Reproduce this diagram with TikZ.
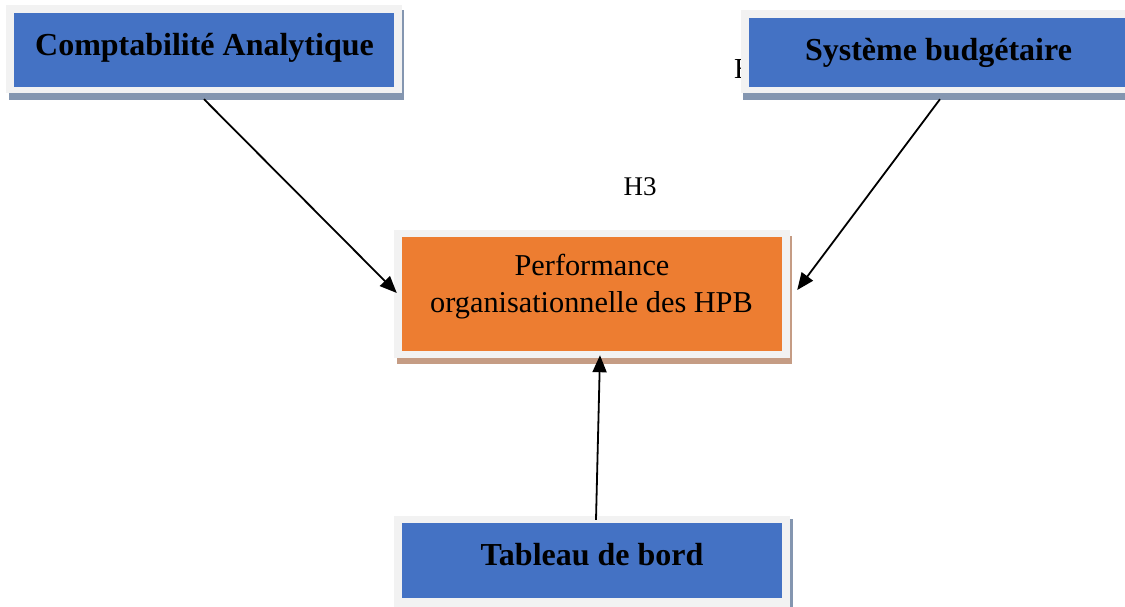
\documentclass[tikz,border=0pt]{standalone}
\usepackage{fontspec}
\setmainfont{Liberation Serif}
\usetikzlibrary{arrows.meta,calc}
\definecolor{boxblue}{HTML}{4472C4}
\definecolor{boxorange}{HTML}{ED7D31}
\definecolor{framegray}{HTML}{F2F2F2}
\definecolor{shblue}{HTML}{8496B0}
\definecolor{shbrown}{HTML}{C59C84}
\tikzset{
  framebox/.style={fill=framegray, draw=none, inner sep=0pt, minimum width=396pt},
  innerbox/.style={draw=none, inner sep=0pt, minimum width=380pt},
  boldlab/.style={font=\fontsize{32}{37}\selectfont\bfseries, inner sep=0pt, anchor=base},
  reglab/.style={font=\fontsize{30.3}{37}\selectfont, inner sep=0pt, anchor=base},
  conn/.style={line width=1.8pt, -{Triangle[length=17pt,width=14pt]}}
}
\begin{document}
\begin{tikzpicture}[x=1pt,y=-1pt]
\useasboundingbox (0,0) rectangle (1125,606);
\clip (0,0) rectangle (1125,606);
\fill[white] (0,0) rectangle (1125,606);

% stray label fragment behind the right box
\node[font=\fontsize{29}{34}\selectfont, inner sep=0pt, anchor=base west] (h2) at (734,78) {H2};

% Comptabilite Analytique
\fill[shblue] (9,10) rectangle (404,100);
\node[framebox, minimum height=88pt] (caf) at (204,49) {};
\node[innerbox, fill=boxblue, minimum height=74pt] (ca) at (204,50) {};
\node[boldlab] (cat) at (204.5,55) {Comptabilité Analytique};

% Systeme budgetaire
\fill[shblue] (743,15) rectangle (1140,100);
\node[framebox, minimum height=83pt] (sbf) at (939,51.5) {};
\node[innerbox, fill=boxblue, minimum height=69pt] (sb) at (939,52.5) {};
\node[boldlab] (sbt) at (938.5,60) {Système budgétaire};

% Performance
\fill[shbrown] (397,236) rectangle (792,364);
\node[framebox, minimum height=128pt] (pf) at (592,294) {};
\node[innerbox, fill=boxorange, minimum height=114pt] (p) at (592,294) {};
\node[reglab] (pt1) at (592,275) {Performance};
\node[reglab] (pt2) at (591.5,312) {organisationnelle des HPB};

% Tableau de bord
\fill[shblue] (397,519) rectangle (793,612);
\node[framebox, minimum height=92pt] (tbf) at (592,562) {};
\node[innerbox, fill=boxblue, minimum height=75pt] (tb) at (592,560.5) {};
\node[boldlab] (tbt) at (592,565) {Tableau de bord};

% H3 label
\node[font=\fontsize{27}{32}\selectfont, inner sep=0pt] (h3) at (640,187) {H3};

% connectors
\draw[conn] ($(caf.south)+(0,6)$) -- ($(pf.west)+(3,-1)$);
\draw[conn] ($(sbf.south)+(1,6)$) -- ($(pf.east)+(7,-4)$);
\draw[conn] ($(tbf.north)+(4,4)$) -- ($(pf.south)+(8,-3)$);
\end{tikzpicture}
\end{document}
